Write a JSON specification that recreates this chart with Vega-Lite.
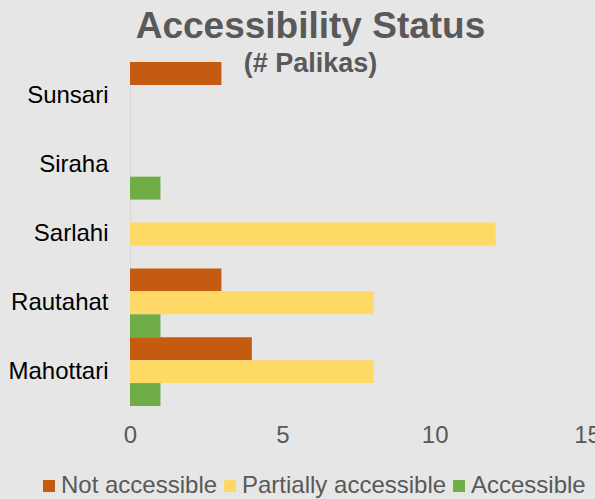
{
  "$schema": "https://vega.github.io/schema/vega-lite/v6.json",
  "width": 457,
  "height": 344,
  "autosize": {"type": "none"},
  "padding": {"left": 130, "top": 62, "right": 8, "bottom": 93},
  "background": "#E7E6E6",
  "title": {
    "text": "Accessibility Status",
    "subtitle": "(# Palikas)",
    "anchor": "middle",
    "frame": "group",
    "dx": -48,
    "offset": -16,
    "font": "Liberation Sans",
    "fontSize": 37,
    "fontWeight": "bold",
    "color": "#595959",
    "subtitleFont": "Liberation Sans",
    "subtitleFontSize": 27,
    "subtitleFontWeight": "bold",
    "subtitleColor": "#595959",
    "subtitlePadding": 5
  },
  "data": {
    "values": [
      {"district": "Sunsari", "status": "Not accessible", "value": 3},
      {"district": "Sunsari", "status": "Partially accessible", "value": 0},
      {"district": "Sunsari", "status": "Accessible", "value": 0},
      {"district": "Siraha", "status": "Not accessible", "value": 0},
      {"district": "Siraha", "status": "Partially accessible", "value": 0},
      {"district": "Siraha", "status": "Accessible", "value": 1},
      {"district": "Sarlahi", "status": "Not accessible", "value": 0},
      {"district": "Sarlahi", "status": "Partially accessible", "value": 12},
      {"district": "Sarlahi", "status": "Accessible", "value": 0},
      {"district": "Rautahat", "status": "Not accessible", "value": 3},
      {"district": "Rautahat", "status": "Partially accessible", "value": 8},
      {"district": "Rautahat", "status": "Accessible", "value": 1},
      {"district": "Mahottari", "status": "Not accessible", "value": 4},
      {"district": "Mahottari", "status": "Partially accessible", "value": 8},
      {"district": "Mahottari", "status": "Accessible", "value": 1}
    ]
  },
  "mark": {"type": "bar"},
  "encoding": {
    "y": {
      "field": "district",
      "type": "nominal",
      "sort": "descending",
      "scale": {"paddingInner": 0, "paddingOuter": 0},
      "axis": {
        "title": null,
        "labelFont": "Liberation Sans",
        "labelFontSize": 24,
        "labelColor": "#000000",
        "ticks": false,
        "domainColor": "#D9D9D9",
        "domainWidth": 1,
        "labelPadding": 22
      }
    },
    "yOffset": {
      "field": "status",
      "type": "nominal",
      "sort": ["Not accessible", "Partially accessible", "Accessible"],
      "scale": {"paddingInner": 0, "paddingOuter": 0}
    },
    "x": {
      "field": "value",
      "type": "quantitative",
      "scale": {"domain": [0, 15], "nice": false},
      "axis": {
        "title": null,
        "values": [0, 5, 10, 15],
        "grid": false,
        "domain": false,
        "ticks": false,
        "labelFont": "Liberation Sans",
        "labelFontSize": 24,
        "labelColor": "#595959",
        "labelPadding": 17,
        "labelFlush": false
      }
    },
    "color": {
      "field": "status",
      "type": "nominal",
      "scale": {
        "domain": ["Not accessible", "Partially accessible", "Accessible"],
        "range": ["#C55A11", "#FFD966", "#70AD47"]
      },
      "legend": {
        "title": null,
        "orient": "none",
        "direction": "horizontal",
        "legendX": -93,
        "legendY": 412,
        "symbolType": "square",
        "symbolSize": 144,
        "symbolStrokeWidth": 0,
        "symbolOpacity": 1,
        "labelFont": "Liberation Sans",
        "labelFontSize": 24,
        "labelColor": "#595959",
        "labelOffset": 0,
        "labelLimit": 400,
        "gridAlign": "none",
        "columnPadding": 0,
        "padding": 0
      }
    }
  },
  "config": {"view": {"stroke": null}}
}
